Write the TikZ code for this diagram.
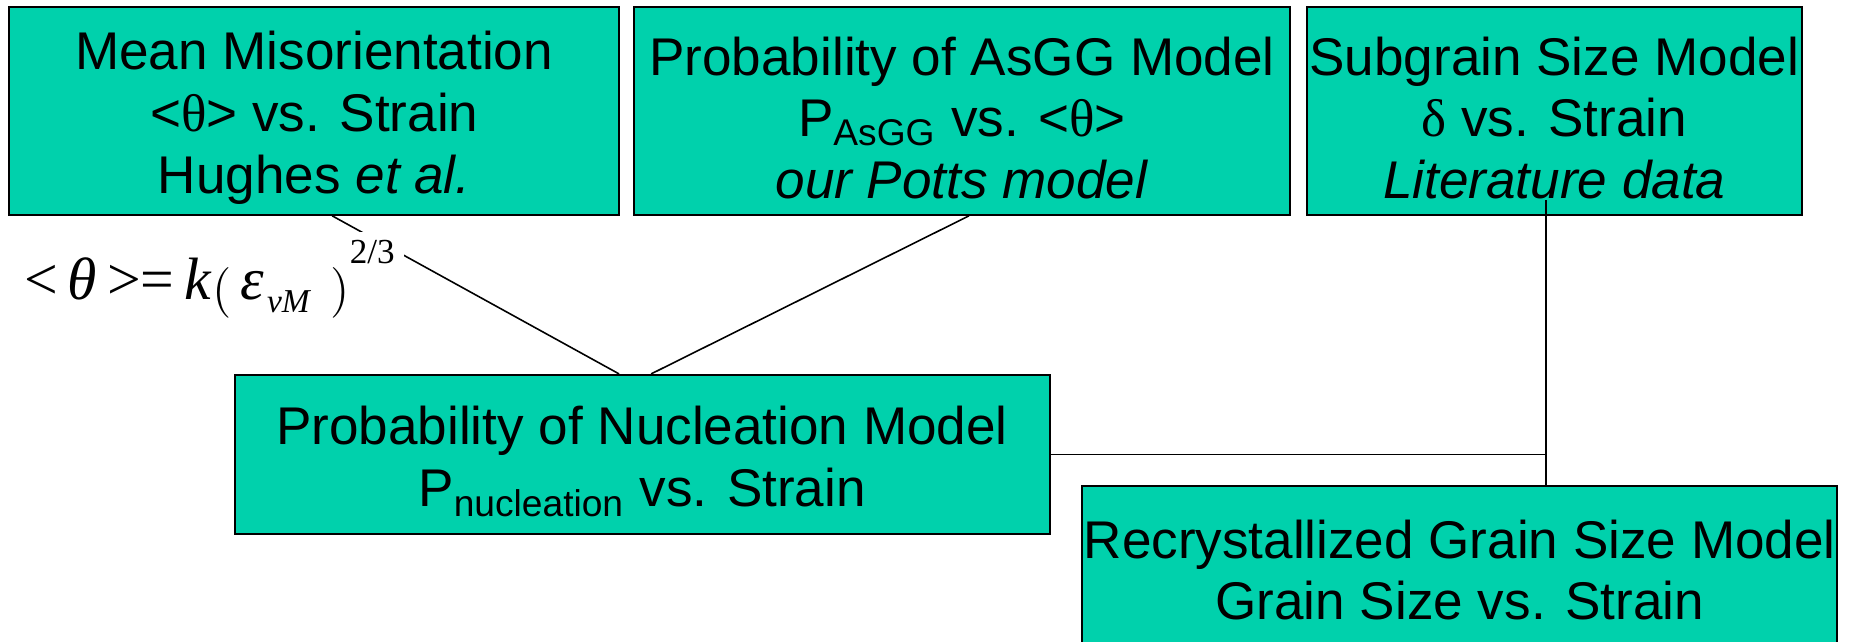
\documentclass[tikz,border=0pt]{standalone}
\usepackage{fontspec}
\setmainfont{Liberation Sans}
\newfontfamily\grk{Liberation Serif}
\definecolor{boxgreen}{RGB}{0,209,172}
\newcommand{\boxstrut}{\rule{0pt}{15pt}}

\begin{document}
\begin{tikzpicture}[
  modelbox/.style={draw,line width=0.6pt,fill=boxgreen,align=center,inner sep=0pt,
    font=\fontsize{15.1}{17.6}\selectfont},
  link/.style={line width=0.45pt}]
  \useasboundingbox (0,0) rectangle (18.49,6.42);
  % top row
  \node[modelbox,minimum width=6.10cm,minimum height=2.08cm] (mis) at (3.142,5.312)
    {\boxstrut Mean Misorientation\\<{\grk θ}> vs. Strain\\Hughes \textit{et al.}};
  \node[modelbox,minimum width=6.56cm,minimum height=2.08cm] (asgg) at (9.62,5.312)
    {\boxstrut Probability of AsGG Model\\P\textsubscript{AsGG} vs. <{\grk θ}>\\\textit{our Potts model}};
  \node[modelbox,minimum width=4.95cm,minimum height=2.08cm] (sub) at (15.543,5.312)
    {\boxstrut Subgrain Size Model\\{\grk δ} vs. Strain\\\textit{Literature data}};
  % lower row
  \node[modelbox,minimum width=8.15cm,minimum height=1.59cm] (nuc) at (6.421,1.875)
    {\boxstrut Probability of Nucleation Model\\P\textsubscript{nucleation} vs. Strain};
  \node[modelbox,minimum width=7.55cm,minimum height=1.68cm] (rgs) at (14.598,0.72)
    {Recrystallized Grain Size Model\\Grain Size vs. Strain};
  \coordinate (jn) at (15.46,1.89);
  % connectors
  \draw[link] ([xshift=0.18cm]mis.south) -- ([xshift=-0.23cm]nuc.north);
  \draw[link] ([xshift=0.07cm]asgg.south) -- ([xshift=0.09cm]nuc.north);
  \draw[link] ([yshift=0.16cm]sub.south -| jn) -- (rgs.north -| jn);
  \draw[link] (nuc.east) -- (nuc.east -| jn);
  % relation for the misorientation
  \node[fill=white,inner sep=0.09cm,anchor=north east,font=\grk\fontsize{17}{20}\selectfont] (law) at (4.045,4.11)
    {<\,\textit{θ}\,>=\,\textit{k}\raisebox{-1.8pt}{\fontsize{15.5}{16}\selectfont$\bigl($}\hspace{2.5pt}\textit{ε}\hspace{1pt}\raisebox{-3.7pt}{\fontsize{9.5}{10}\selectfont\textit{vM}}\hspace{5.5pt}\raisebox{-1.8pt}{\fontsize{15.5}{16}\selectfont$\bigr)$}\raisebox{10pt}{\fontsize{10}{10}\selectfont 2/3}};
\end{tikzpicture}
\end{document}
